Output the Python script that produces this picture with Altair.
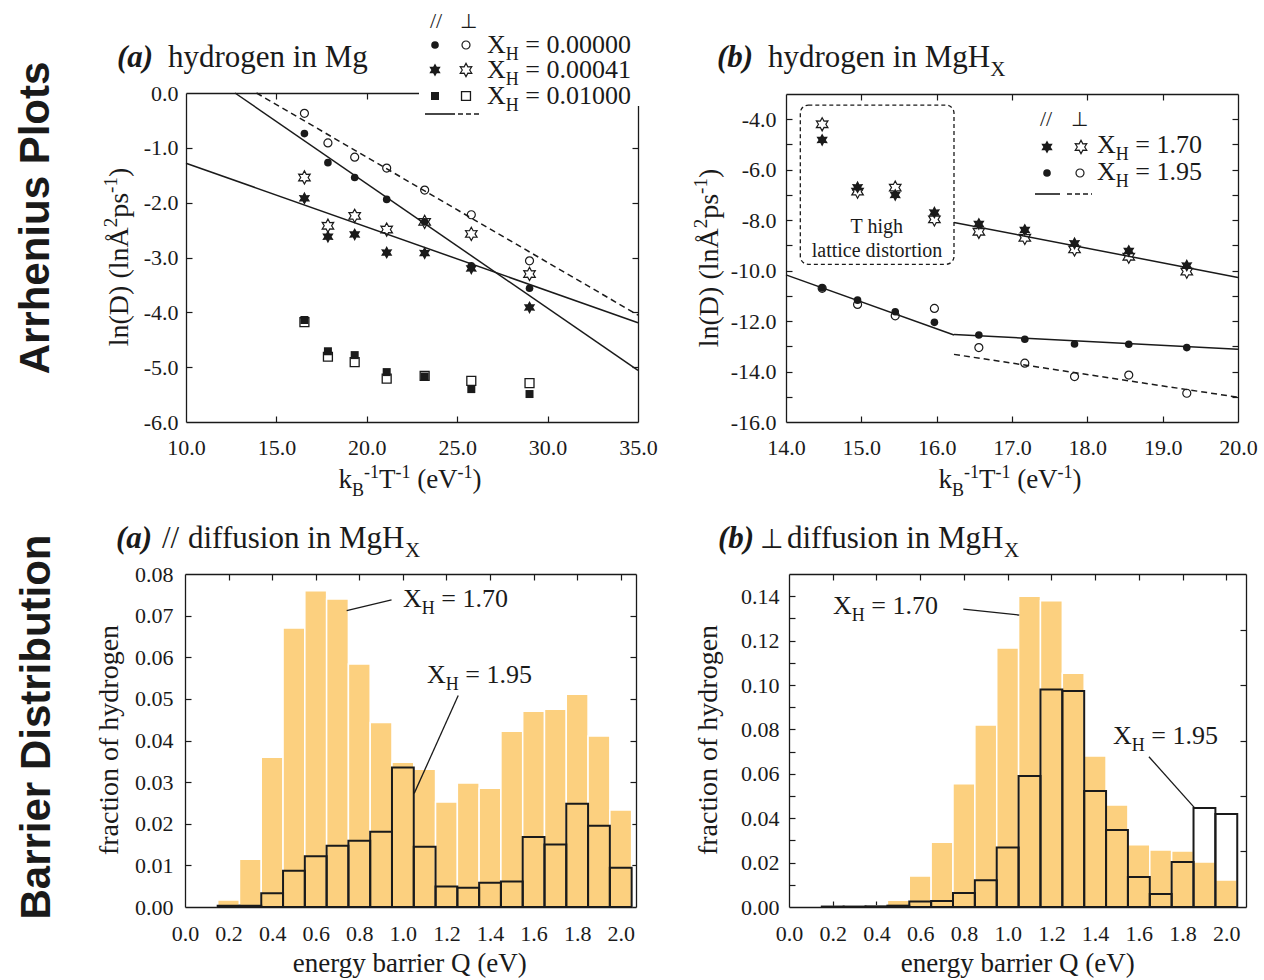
import altair as alt
import pandas as pd

INK = "#1a1a1a"
ORANGE = "#FCD07F"
SERIF = "Liberation Serif"
SANS = "Liberation Sans"
CW, CH = 1264, 980

# ---------------- data: top-left, hydrogen in Mg ----------------
a_x = [16.55, 17.85, 19.33, 21.10, 23.20, 25.78, 29.00]
a_circ_par = [-0.74, -1.27, -1.54, -1.94, -2.35, -3.15, -3.56]
a_circ_perp = [-0.37, -0.91, -1.17, -1.37, -1.77, -2.22, -3.06]
a_star_par = [-1.92, -2.62, -2.58, -2.91, -2.92, -3.20, -3.91]
a_star_perp = [-1.54, -2.42, -2.24, -2.49, -2.35, -2.57, -3.30]
a_sq_par = [-4.14, -4.71, -4.78, -5.09, -5.17, -5.40, -5.49]
a_sq_perp = [-4.18, -4.81, -4.91, -5.21, -5.16, -5.25, -5.29]
a_fit_solid_seg = [0, 0, 1, 1]
a_fit_solid_x = [12.71, 35.0, 10.0, 35.0]
a_fit_solid_y = [0.0, -5.06, -1.28, -4.19]
a_fit_dash_seg = [0, 0]
a_fit_dash_x = [13.9, 35.0]
a_fit_dash_y = [0.0, -4.05]

# ---------------- data: top-right, hydrogen in MgHx ----------------
b_x = [14.48, 14.95, 15.45, 15.97, 16.56, 17.17, 17.83, 18.55, 19.32]
b_star_par = [-4.82, -6.70, -7.00, -7.70, -8.15, -8.39, -8.92, -9.22, -9.80]
b_star_perp = [-4.20, -6.87, -6.71, -7.97, -8.46, -8.70, -9.16, -9.45, -10.04]
b_circ_par = [-10.69, -11.17, -11.63, -12.05, -12.55, -12.72, -12.91, -12.92, -13.05]
b_circ_perp = [-10.70, -11.34, -11.79, -11.50, -13.05, -13.67, -14.20, -14.14, -14.86]
b_fit_solid_seg = [0, 0, 1, 1, 2, 2]
b_fit_solid_x = [16.23, 20.0, 14.0, 16.23, 16.23, 20.0]
b_fit_solid_y = [-8.09, -10.27, -10.17, -12.55, -12.53, -13.12]
b_fit_dash_seg = [0, 0]
b_fit_dash_x = [16.23, 20.0]
b_fit_dash_y = [-13.32, -15.02]
b_box_x = [14.19]
b_box_x2 = [16.23]
b_box_y = [-9.75]
b_box_y2 = [-3.44]

# ---------------- data: barrier distributions ----------------
q_centers = [0.2, 0.3, 0.4, 0.5, 0.6, 0.7, 0.8, 0.9, 1.0, 1.1,
             1.2, 1.3, 1.4, 1.5, 1.6, 1.7, 1.8, 1.9, 2.0]
c_170 = [0.0017, 0.0115, 0.0360, 0.0670, 0.0760, 0.0740, 0.0584, 0.0443, 0.0348, 0.0331,
         0.0252, 0.0298, 0.0285, 0.0422, 0.0470, 0.0475, 0.0511, 0.0411, 0.0233]
c_195 = [0.0003, 0.0003, 0.0033, 0.0087, 0.0122, 0.0147, 0.0159, 0.0181, 0.0335, 0.0145,
         0.0049, 0.0046, 0.0058, 0.0061, 0.0168, 0.0150, 0.0248, 0.0195, 0.0094]
d_170 = [0.0002, 0.0003, 0.0005, 0.0030, 0.0140, 0.0292, 0.0555, 0.0820, 0.1167, 0.1400,
         0.1380, 0.1053, 0.0680, 0.0460, 0.0280, 0.0257, 0.0252, 0.0203, 0.0122]
d_195 = [0.0002, 0.0002, 0.0003, 0.0006, 0.0025, 0.0027, 0.0063, 0.0120, 0.0268, 0.0590,
         0.0980, 0.0973, 0.0523, 0.0347, 0.0135, 0.0059, 0.0203, 0.0446, 0.0419]
c_lead_seg = [0, 0, 1, 1]
c_lead_x = [0.742, 0.948, 1.254, 1.052]
c_lead_y = [0.0712, 0.0738, 0.0508, 0.0273]
d_lead_seg = [0, 0, 1, 1]
d_lead_x = [0.797, 1.053, 1.646, 1.853]
d_lead_y = [0.1342, 0.1315, 0.0677, 0.0449]

# ---------------- axis ticks / labels ----------------
a_xlabels = [10.0, 15.0, 20.0, 25.0, 30.0, 35.0]
a_xticks = [15.0, 20.0, 25.0, 30.0]
a_ylabels = [0.0, -1.0, -2.0, -3.0, -4.0, -5.0, -6.0]
a_yticks = [-1.0, -2.0, -3.0, -4.0, -5.0]
b_xlabels = [14.0, 15.0, 16.0, 17.0, 18.0, 19.0, 20.0]
b_xticks = [15.0, 16.0, 17.0, 18.0, 19.0]
b_ylabels = [-4.0, -6.0, -8.0, -10.0, -12.0, -14.0, -16.0]
b_yticks = [-4.0, -5.0, -6.0, -7.0, -8.0, -9.0, -10.0, -11.0, -12.0, -13.0, -14.0, -15.0]
q_xlabels = [0.0, 0.2, 0.4, 0.6, 0.8, 1.0, 1.2, 1.4, 1.6, 1.8, 2.0]
q_xticks = [0.2, 0.4, 0.6, 0.8, 1.0, 1.2, 1.4, 1.6, 1.8, 2.0]
c_ylabels = [0.0, 0.01, 0.02, 0.03, 0.04, 0.05, 0.06, 0.07, 0.08]
c_yticks = [0.01, 0.02, 0.03, 0.04, 0.05, 0.06, 0.07]
d_ylabels = [0.0, 0.02, 0.04, 0.06, 0.08, 0.10, 0.12, 0.14]
d_yticks_left = [0.01, 0.02, 0.03, 0.04, 0.05, 0.06, 0.07, 0.08, 0.09, 0.10, 0.11, 0.12, 0.13, 0.14]
d_yticks_right = [0.025, 0.05, 0.075, 0.10, 0.125]

# panel geometry (scale domains and pixel ranges)
PA = dict(xd=[10, 35], xr=[186, 638], yd=[-6, 0], yr=[422, 93])
PB = dict(xd=[14, 20], xr=[786, 1238], yd=[-16, -3], yr=[422, 94])
PC = dict(xd=[0, 2.07], xr=[185, 636], yd=[0, 0.08], yr=[907, 574])
PD = dict(xd=[0, 2.09], xr=[789, 1246], yd=[0, 0.15], yr=[907, 574])

STAR = ("M0,-1L0.28,-0.48L0.87,-0.5L0.56,0L0.87,0.5L0.28,0.48L0,1"
        "L-0.28,0.48L-0.87,0.5L-0.56,0L-0.87,-0.5L-0.28,-0.48Z")
STYLES = {
    "circ_f": dict(shape="circle", filled=True, size=58, color=INK, opacity=1),
    "circ_o": dict(shape="circle", filled=False, size=64, color=INK, strokeWidth=1.2, opacity=1),
    "star_f": dict(shape=STAR, filled=True, size=170, color=INK, opacity=1),
    "star_o": dict(shape=STAR, filled=False, size=175, color=INK, strokeWidth=1.2, opacity=1),
    "sq_f": dict(shape="square", filled=True, size=64, color=INK, opacity=1),
    "sq_o": dict(shape="square", filled=False, size=80, color=INK, strokeWidth=1.3, opacity=1),
}


def sc(dom, rng):
    return alt.Scale(domain=dom, range=rng, nice=False, zero=False)


def xy(p, xf="x", yf="y"):
    return dict(x=alt.X(f"{xf}:Q", scale=sc(p["xd"], p["xr"]), axis=None),
                y=alt.Y(f"{yf}:Q", scale=sc(p["yd"], p["yr"]), axis=None))


def pix(xf="x", yf="y"):
    return dict(x=alt.X(f"{xf}:Q", scale=None, axis=None),
                y=alt.Y(f"{yf}:Q", scale=None, axis=None))


def points(p, xs, ys, style):
    df = pd.DataFrame({"x": xs, "y": ys})
    return alt.Chart(df).mark_point(**STYLES[style]).encode(**xy(p))


def lines(p, seg, xs, ys, dash=False, width=1.5):
    df = pd.DataFrame({"seg": seg, "x": xs, "y": ys})
    kw = dict(color=INK, strokeWidth=width)
    if dash:
        kw["strokeDash"] = [6, 4]
    return alt.Chart(df).mark_line(**kw).encode(detail="seg:N", **xy(p))


def bars(p, vals, outline=False):
    df = pd.DataFrame({"x0": [c - 0.05 for c in q_centers],
                       "x1": [c + 0.05 for c in q_centers],
                       "v": vals, "z": [0.0] * len(vals)})
    if outline:
        m = alt.Chart(df).mark_rect(fill="white", fillOpacity=0, stroke=INK, strokeWidth=2)
    else:
        m = alt.Chart(df).mark_rect(fill=ORANGE, stroke="white", strokeWidth=1.5)
    return m.encode(x=alt.X("x0:Q", scale=sc(p["xd"], p["xr"]), axis=None),
                    x2="x1:Q",
                    y=alt.Y("v:Q", scale=sc(p["yd"], p["yr"]), axis=None),
                    y2="z:Q")


def frame_axis(orient, offset, values):
    return alt.Axis(orient=orient, offset=offset, values=values, labels=False,
                    ticks=True, tickSize=6, tickWidth=1.2, tickColor=INK,
                    domain=True, domainColor=INK, domainWidth=1.3, grid=False, title=None)


def label_axis(orient, offset, values, fmt, pad):
    return alt.Axis(orient=orient, offset=offset, values=values, labels=True,
                    ticks=False, tickSize=0, domain=False, grid=False, title=None,
                    labelExpr="replace(format(datum.value, '" + fmt + "'), '\u2212', '-')",
                    labelFont=SERIF, labelFontSize=22, labelColor=INK,
                    labelPadding=pad, labelFlush=False, labelOverlap=False, labelBound=False)


def axes(p, xlab, xt, ylab, ytl, ytr, yfmt, xpad, ypad):
    x0, x1 = p["xr"]
    yb, yt = p["yr"]
    df = pd.DataFrame({"x": [p["xd"][0]], "y": [p["yd"][0]]})
    base = alt.Chart(df).mark_point(opacity=0)
    xs = sc(p["xd"], p["xr"])
    ys = sc(p["yd"], p["yr"])
    l1 = base.encode(x=alt.X("x:Q", scale=xs, axis=label_axis("bottom", yb - CH, xlab, ".1f", xpad)),
                     y=alt.Y("y:Q", scale=ys, axis=label_axis("left", -x0, ylab, yfmt, ypad)))
    l2 = base.encode(x=alt.X("x:Q", scale=xs, axis=frame_axis("top", -yb, xt)),
                     y=alt.Y("y:Q", scale=ys, axis=frame_axis("right", x0 - CW, ytl)))
    l3 = base.encode(x=alt.X("x:Q", scale=xs, axis=frame_axis("bottom", yt - CH, xt)),
                     y=alt.Y("y:Q", scale=ys, axis=frame_axis("left", -x1, ytr)))
    return [l1, l2, l3]


# ---------------- rich text helper (Times metrics) ----------------
TW = {" ": 250, "(": 333, ")": 333, "-": 333, ".": 250, "/": 278, "=": 564,
      "A": 722, "B": 667, "D": 722, "H": 722, "M": 889, "P": 556, "Q": 722, "T": 611,
      "V": 722, "X": 722, "a": 444, "b": 500, "c": 444, "d": 500, "e": 444, "f": 333,
      "g": 500, "h": 500, "i": 278, "k": 500, "l": 278, "n": 500, "o": 500, "p": 500,
      "r": 333, "s": 389, "t": 278, "u": 500, "y": 500, "\u00c5": 722, "\u22a5": 700}


def tw(s, size):
    return sum(TW.get(c, 500) for c in s) / 1000.0 * size


def rich(segs, x0, y0, S, rot=False, align="left"):
    small = round(S * 0.68)
    items = []
    for text, kind in segs:
        size = S if kind == "n" else small
        shift = 0.0 if kind == "n" else (0.28 * S if kind == "sub" else -0.38 * S)
        items.append((text, size, tw(text, size), shift))
    total = sum(i[2] for i in items)
    pos = -total / 2 if align == "center" else 0.0
    rows = []
    for text, size, w, shift in items:
        lead = tw(text[: len(text) - len(text.lstrip())], size)
        t = text.strip()
        if rot:
            rows.append(dict(t=t, x=x0 + shift, y=y0 - pos - lead, s=size))
        else:
            rows.append(dict(t=t, x=x0 + pos + lead, y=y0 + shift, s=size))
        pos += w
    return rows


def text_layer(rows, font, angle=0, weight="normal", style="normal", align="left", baseline="alphabetic"):
    kw = dict(font=font, fontWeight=weight, fontStyle=style, align=align,
              baseline=baseline, color=INK)
    if angle:
        kw["angle"] = angle
    return alt.Chart(pd.DataFrame(rows)).mark_text(**kw).encode(
        text="t:N", size=alt.Size("s:Q", scale=None, legend=None), **pix())


XH = lambda v: [("X", "n"), ("H", "sub"), (" = " + v, "n")]
KT = [("k", "n"), ("B", "sub"), ("-1", "sup"), ("T", "n"), ("-1", "sup"),
      (" (eV", "n"), ("-1", "sup"), (")", "n")]
LN = [("ln(D) (ln\u00c5", "n"), ("2", "sup"), ("ps", "n"), ("-1", "sup"), (")", "n")]

reg = []
reg += rich([("hydrogen in Mg", "n")], 168, 67, 31)
reg += rich([("hydrogen in MgH", "n"), ("X", "sub")], 768, 67, 31)
reg += rich([("//", "n")], 162, 548, 31)
reg += rich([("diffusion in MgH", "n"), ("X", "sub")], 188, 548, 31)
reg += rich([("\u22a5", "n")], 760, 548, 27)
reg += rich([("diffusion in MgH", "n"), ("X", "sub")], 787, 548, 31)
reg += rich(KT, 410, 488, 27, align="center")
reg += rich(KT, 1010, 488, 27, align="center")
reg += rich([("energy barrier Q (eV)", "n")], 410, 972, 27, align="center")
reg += rich([("energy barrier Q (eV)", "n")], 1018, 972, 27, align="center")
# legend (a)
reg += rich([("//", "n")], 430, 28, 22)
reg += rich([("\u22a5", "n")], 460, 28, 20)
reg += rich(XH("0.00000"), 487, 53, 26)
reg += rich(XH("0.00041"), 487, 78, 26)
reg += rich(XH("0.01000"), 487, 104, 26)
# legend (b)
reg += rich([("//", "n")], 1040, 126, 22)
reg += rich([("\u22a5", "n")], 1071, 126, 20)
reg += rich(XH("1.70"), 1097, 153, 26)
reg += rich(XH("1.95"), 1097, 180, 26)
# annotations
reg += rich([("T high", "n")], 877, 233, 20, align="center")
reg += rich([("lattice distortion", "n")], 877, 257, 20, align="center")
reg += rich(XH("1.70"), 403, 607, 26)
reg += rich(XH("1.95"), 427, 683, 26)
reg += rich(XH("1.70"), 833, 614, 26)
reg += rich(XH("1.95"), 1113, 744, 26)

bi = [dict(t="(a)", x=117, y=67, s=31), dict(t="(b)", x=717, y=67, s=31),
      dict(t="(a)", x=116, y=548, s=31), dict(t="(b)", x=718, y=548, s=31)]

rot = []
rot += rich(LN, 128, 257, 28, rot=True, align="center")
rot += rich(LN, 718, 258, 28, rot=True, align="center")
rot += rich([("fraction of hydrogen", "n")], 118, 740, 28, rot=True, align="center")
rot += rich([("fraction of hydrogen", "n")], 717, 740, 28, rot=True, align="center")

row_labels = [dict(t="Arrhenius Plots", x=36, y=218, s=42),
              dict(t="Barrier Distribution", x=37, y=727, s=42)]

# legend symbols (pixel positions)
leg_pts = {
    "circ_f": ([435], [45]), "circ_o": ([466], [45]),
    "star_f": ([435, 1047], [70, 147]), "star_o": ([466, 1081], [70, 147]),
    "sq_f": ([435], [96]), "sq_o": ([466], [96]),
}
leg_b_circ_f = ([1047], [173])
leg_b_circ_o = ([1080], [173])
leg_solid = pd.DataFrame({"x": [425, 1035], "x2": [455, 1060], "y": [114, 194]})
leg_dash = pd.DataFrame({"x": [458, 1067], "x2": [481, 1092], "y": [114, 194]})
leg_bg = pd.DataFrame({"x": [419], "x2": [652], "y": [84], "y2": [106]})

layers = []
for p, args in [(PA, (a_xlabels, a_xticks, a_ylabels, a_yticks, a_yticks, ".1f", 15, 8)),
                (PB, (b_xlabels, b_xticks, b_ylabels, b_yticks, b_yticks, ".1f", 15, 10)),
                (PC, (q_xlabels, q_xticks, c_ylabels, c_yticks, c_yticks, ".2f", 16, 12)),
                (PD, (q_xlabels, q_xticks, d_ylabels, d_yticks_left, d_yticks_right, ".2f", 16, 10))]:
    layers += axes(p, *args)

# bar panels
layers += [bars(PC, c_170), bars(PC, c_195, outline=True), lines(PC, c_lead_seg, c_lead_x, c_lead_y, width=1.3)]
layers += [bars(PD, d_170), bars(PD, d_195, outline=True), lines(PD, d_lead_seg, d_lead_x, d_lead_y, width=1.3)]

# Arrhenius panel (a)
layers += [lines(PA, a_fit_solid_seg, a_fit_solid_x, a_fit_solid_y),
           lines(PA, a_fit_dash_seg, a_fit_dash_x, a_fit_dash_y, dash=True),
           points(PA, a_x, a_sq_par, "sq_f"), points(PA, a_x, a_sq_perp, "sq_o"),
           points(PA, a_x, a_star_par, "star_f"), points(PA, a_x, a_star_perp, "star_o"),
           points(PA, a_x, a_circ_par, "circ_f"), points(PA, a_x, a_circ_perp, "circ_o")]

# Arrhenius panel (b)
box = pd.DataFrame({"x": b_box_x, "x2": b_box_x2, "y": b_box_y, "y2": b_box_y2})
layers += [alt.Chart(box).mark_rect(fill="white", fillOpacity=0, stroke=INK, strokeWidth=1.3,
                                    strokeDash=[4, 3], cornerRadius=8).encode(
               x=alt.X("x:Q", scale=sc(PB["xd"], PB["xr"]), axis=None), x2="x2:Q",
               y=alt.Y("y:Q", scale=sc(PB["yd"], PB["yr"]), axis=None), y2="y2:Q"),
           lines(PB, b_fit_solid_seg, b_fit_solid_x, b_fit_solid_y),
           lines(PB, b_fit_dash_seg, b_fit_dash_x, b_fit_dash_y, dash=True),
           points(PB, b_x, b_star_par, "star_f"), points(PB, b_x, b_star_perp, "star_o"),
           points(PB, b_x, b_circ_par, "circ_f"), points(PB, b_x, b_circ_perp, "circ_o")]

# legends
layers.append(alt.Chart(leg_bg).mark_rect(color="white").encode(x2="x2:Q", y2="y2:Q", **pix()))
for style, (xs, ys) in leg_pts.items():
    layers.append(alt.Chart(pd.DataFrame({"x": xs, "y": ys})).mark_point(**STYLES[style]).encode(**pix()))
layers.append(alt.Chart(pd.DataFrame({"x": leg_b_circ_f[0], "y": leg_b_circ_f[1]})).mark_point(**STYLES["circ_f"]).encode(**pix()))
layers.append(alt.Chart(pd.DataFrame({"x": leg_b_circ_o[0], "y": leg_b_circ_o[1]})).mark_point(**STYLES["circ_o"]).encode(**pix()))
layers.append(alt.Chart(leg_solid).mark_rule(color=INK, strokeWidth=1.6).encode(x2="x2:Q", **pix()))
layers.append(alt.Chart(leg_dash).mark_rule(color=INK, strokeWidth=1.6, strokeDash=[5, 3]).encode(x2="x2:Q", **pix()))

# texts
layers.append(text_layer(reg, SERIF))
layers.append(text_layer(bi, SERIF, weight="bold", style="italic"))
layers.append(text_layer(rot, SERIF, angle=270))
layers.append(text_layer(row_labels, SANS, angle=270, weight="bold", align="center", baseline="middle"))

chart = alt.layer(*layers).resolve_scale(
    x="independent", y="independent"
).resolve_axis(
    x="independent", y="independent"
).properties(
    width=CW, height=CH, padding=0, autosize=alt.AutoSizeParams(type="none"),
    background="white"
).configure_view(stroke=None)

chart.save("out.html", embed_options={"renderer": "svg", "actions": False})
